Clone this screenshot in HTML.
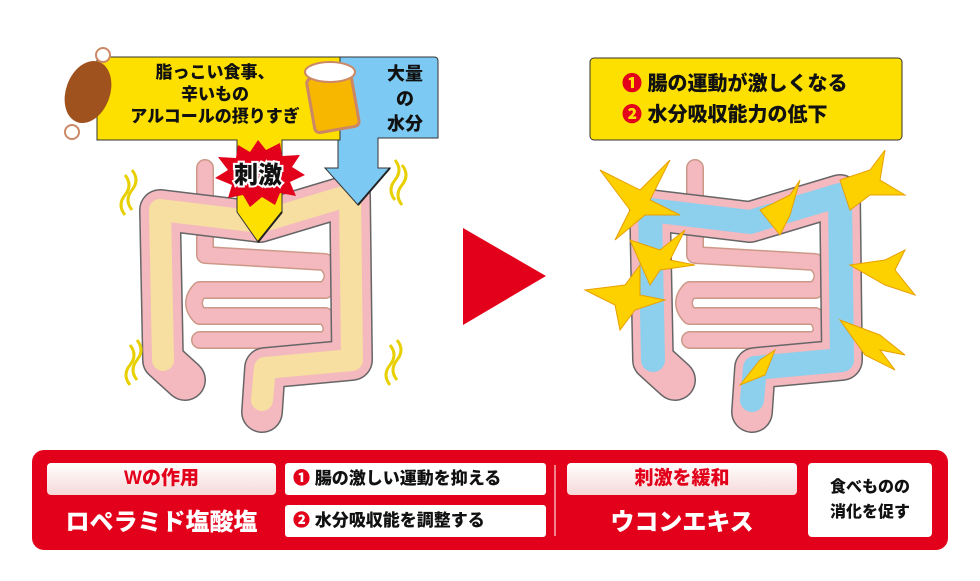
<!DOCTYPE html>
<html><head><meta charset="utf-8"><style>
body{margin:0;background:#fff;width:980px;height:581px;overflow:hidden;position:relative;font-family:"Liberation Sans","Noto Sans CJK JP",sans-serif;font-weight:900}
.a{position:absolute}
</style></head><body>
<svg class="a" style="left:0;top:0" width="980" height="581">
<defs>
<g id="gut">
 <path d="M205,168 L205,255 L325,262 Q340,276 325,290 L200,290 Q188,303 200,316 L325,316 Q338,330 325,340 L200,340" fill="none" stroke="#c98" stroke-width="18" stroke-linejoin="round" stroke-linecap="round"/>
 <path d="M205,168 L205,255 L325,262 Q340,276 325,290 L200,290 Q188,303 200,316 L325,316 Q338,330 325,340 L200,340" fill="none" stroke="#f4b8bf" stroke-width="15" stroke-linejoin="round" stroke-linecap="round"/>
</g>
</defs>
<use href="#gut"/>
<path d="M185,380 L163,360 L160,210 L260,222 L350,195 L352,360 L265,368 L262,412" fill="none" stroke="#666" stroke-width="42" stroke-linejoin="round" stroke-linecap="round"/>
<path d="M185,380 L163,360 L160,210 L260,222 L350,195 L352,360 L265,368 L262,412" fill="none" stroke="#f4b8bf" stroke-width="39" stroke-linejoin="round" stroke-linecap="round"/>
<path d="M163,360 L160,210 L260,222 L350,195 L352,360 L265,368 L262,400" fill="none" stroke="#f6dfa0" stroke-width="22" stroke-linejoin="round" stroke-linecap="round"/>
<g transform="translate(490,0)">
<use href="#gut"/>
<path d="M185,380 L163,360 L160,210 L260,222 L350,195 L352,360 L265,368 L262,412" fill="none" stroke="#666" stroke-width="42" stroke-linejoin="round" stroke-linecap="round"/>
<path d="M185,380 L163,360 L160,210 L260,222 L350,195 L352,360 L265,368 L262,412" fill="none" stroke="#f4b8bf" stroke-width="39" stroke-linejoin="round" stroke-linecap="round"/>
<path d="M163,360 L160,210 L260,222 L350,195 L352,360 L265,368 L262,400" fill="none" stroke="#8cd0ee" stroke-width="24" stroke-linejoin="round" stroke-linecap="round"/>
</g>
<g fill="#fdd000" stroke="#e8a000" stroke-width="1">
<polygon points="600,170 640,190 670,160 650,200 680,215 645,215 615,240 630,210"/>
<polygon points="585,290 625,285 640,265 640,295 665,300 635,310 620,330 615,305"/>
<polygon points="630,240 660,250 685,230 670,260 695,265 660,270 650,285"/>
<polygon points="840,180 870,170 885,150 880,180 905,195 870,195 850,210"/>
<polygon points="850,265 885,260 905,250 895,270 915,295 885,285"/>
<polygon points="840,320 880,335 905,355 880,350 895,370 865,355"/>
<polygon points="760,210 790,195 800,180 790,215 780,235"/>
<polygon points="740,385 760,360 775,350 765,375"/>
</g>
<g fill="none" stroke="#e8d000" stroke-width="3">
<path d="M125,175 q8,10 0,20 q-8,10 0,20 M132,170 q8,10 0,20 q-8,10 0,20"/>
<path d="M395,160 q8,10 0,20 q-8,10 0,20 M402,165 q8,10 0,20 q-8,10 0,20"/>
<path d="M130,345 q8,10 0,20 q-8,10 0,20 M137,340 q8,10 0,20 q-8,10 0,20"/>
<path d="M390,345 q8,10 0,20 q-8,10 0,20 M397,340 q8,10 0,20 q-8,10 0,20"/>
</g>
<path d="M335,57 H434 Q438,57 438,61 V138 H378 V168 H390 L358,205 L325,168 H338 V138 H335Z" fill="#7ccaf4" stroke="#333" stroke-width="1"/>
<path d="M97,57 H340 V140 H282 V212 L258,242 L237,212 V140 H97Z" fill="#fde000" stroke="#333" stroke-width="1"/>
<line x1="258" y1="242" x2="282" y2="212" stroke="#222" stroke-width="2"/>
<line x1="358" y1="205" x2="390" y2="168" stroke="#222" stroke-width="2"/>
<polygon points="258,140 266,150 280,143 282,156 300,155 292,167 305,175 290,182 296,196 280,193 275,205 262,197 250,207 243,195 228,198 232,185 215,178 228,170 218,157 236,158 238,145 250,152" fill="#e2001a"/>
<text x="258" y="183" text-anchor="middle" font-size="24" font-weight="900" fill="#111" stroke="#fff" stroke-width="4" paint-order="stroke" font-family="Liberation Sans,Noto Sans CJK JP,sans-serif">刺激</text>
<ellipse cx="88" cy="92" rx="22" ry="32" fill="#a0521e" transform="rotate(20 88 92)"/>
<circle cx="103" cy="55" r="7" fill="#fff" stroke="#c86" stroke-width="2"/>
<circle cx="72" cy="132" r="7" fill="#fff" stroke="#c86" stroke-width="2"/>
<rect x="310" y="75" width="45" height="55" rx="5" fill="#f7b600" stroke="#c86" stroke-width="3" transform="rotate(-10 332 100)"/>
<ellipse cx="330" cy="72" rx="25" ry="10" fill="#fff" stroke="#c86" stroke-width="2"/>
<polygon points="463,228 463,325 546,276" fill="#e2001a"/>
<rect x="590" y="58" width="312" height="82" rx="4" fill="#fde000" stroke="#333" stroke-width="1"/>
<rect x="32" y="450" width="916" height="100" rx="12" fill="#e2001a"/>
<line x1="555" y1="465" x2="555" y2="536" stroke="#fff" stroke-width="1"/>
</svg>

<div class="a" style="left:100px;top:62px;width:230px;text-align:center;font-size:17px;line-height:22px;color:#111">脂っこい食事、<br>辛いもの<br>アルコールの摂りすぎ</div>
<div class="a" style="left:375px;top:62px;width:60px;text-align:center;font-size:18px;line-height:25px;color:#111">大量<br>の<br>水分</div>
<div class="a" style="left:622px;top:69px;font-size:20px;line-height:31px;color:#111"><span style="color:#e2001a">❶</span> 腸の運動が激しくなる<br><span style="color:#e2001a">❷</span> 水分吸収能力の低下</div>

<div class="a" style="left:47px;top:463px;width:229px;height:32px;background:linear-gradient(#fff,#f7d8d8);border-radius:4px;text-align:center;line-height:32px;font-size:19px;color:#e2001a">Wの作用</div>
<div class="a" style="left:47px;top:505px;width:229px;text-align:center;line-height:36px;font-size:24px;color:#fff">ロペラミド塩酸塩</div>
<div class="a" style="left:285px;top:463px;width:261px;height:32px;background:#fff;border-radius:3px;line-height:32px;font-size:17px;color:#111;text-indent:8px"><span style="color:#e2001a">❶</span> 腸の激しい運動を抑える</div>
<div class="a" style="left:285px;top:505px;width:261px;height:32px;background:#fff;border-radius:3px;line-height:32px;font-size:17px;color:#111;text-indent:8px"><span style="color:#e2001a">❷</span> 水分吸収能を調整する</div>
<div class="a" style="left:567px;top:463px;width:230px;height:32px;background:linear-gradient(#fff,#f7d8d8);border-radius:4px;text-align:center;line-height:32px;font-size:19px;color:#e2001a">刺激を緩和</div>
<div class="a" style="left:567px;top:505px;width:230px;text-align:center;line-height:36px;font-size:24px;color:#fff">ウコンエキス</div>
<div class="a" style="left:808px;top:463px;width:124px;height:74px;background:#fff;border-radius:4px;text-align:center;font-size:16px;line-height:25px;color:#111;padding-top:12px;box-sizing:border-box">食べものの<br>消化を促す</div>
</body></html>
